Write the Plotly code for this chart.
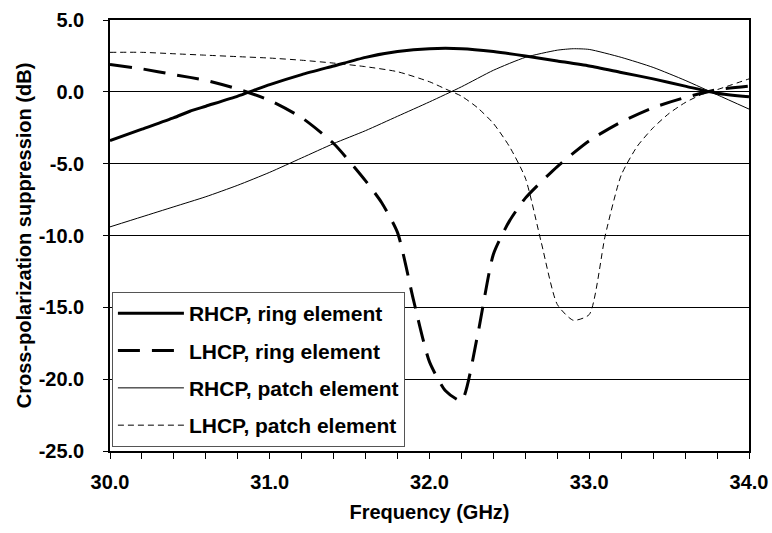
import plotly.graph_objects as go

# Frequency sweep (GHz) for each measured curve
freq_rhcp_ring = [30.0, 30.2, 30.4, 30.5, 30.6, 30.8, 30.9, 31.0, 31.2, 31.4, 31.6, 31.8,
                  32.0, 32.2, 32.4, 32.6, 32.8, 33.0, 33.2, 33.4, 33.6, 33.8, 34.0]
rhcp_ring = [-3.4, -2.6, -1.8, -1.35, -1.0, -0.3, 0.1, 0.5, 1.2, 1.8, 2.4, 2.8,
             3.0, 3.0, 2.8, 2.5, 2.15, 1.8, 1.35, 0.9, 0.4, -0.1, -0.35]

freq_lhcp_ring = [30.0, 30.2, 30.4, 30.6, 30.8, 31.0, 31.2, 31.4, 31.6, 31.7, 31.8, 31.9,
                  32.0, 32.1, 32.2, 32.3, 32.4, 32.5, 32.6, 32.8, 33.0, 33.2, 33.4, 33.6,
                  33.8, 34.0]
lhcp_ring = [1.9, 1.6, 1.2, 0.8, 0.2, -0.6, -1.8, -3.6, -6.2, -7.7, -9.8, -14.5,
             -18.8, -20.8, -21.5, -17.0, -11.3, -9.0, -7.4, -5.2, -3.4, -2.1, -1.1, -0.4,
             0.15, 0.4]

freq_rhcp_patch = [30.0, 30.2, 30.4, 30.6, 30.8, 31.0, 31.2, 31.4, 31.6, 31.8, 32.0, 32.2,
                   32.4, 32.6, 32.8, 32.9, 33.0, 33.2, 33.4, 33.6, 33.8, 34.0]
rhcp_patch = [-9.4, -8.7, -8.0, -7.3, -6.5, -5.6, -4.6, -3.6, -2.7, -1.7, -0.7, 0.35,
              1.5, 2.4, 2.9, 3.0, 2.95, 2.4, 1.7, 0.8, -0.2, -1.2]

freq_lhcp_patch = [30.0, 30.2, 30.4, 30.6, 30.8, 31.0, 31.2, 31.4, 31.6, 31.8, 32.0, 32.1,
                   32.2, 32.3, 32.4, 32.5, 32.6, 32.7, 32.8, 32.9, 33.0, 33.1, 33.2, 33.3,
                   33.4, 33.5, 33.6, 33.7, 33.8, 34.0]
lhcp_patch = [2.75, 2.75, 2.65, 2.55, 2.45, 2.35, 2.2, 2.0, 1.75, 1.4, 0.7, 0.2,
              -0.3, -1.1, -2.2, -3.8, -6.0, -10.5, -14.8, -15.9, -15.5, -10.0, -5.8, -3.8,
              -2.5, -1.5, -0.75, -0.2, 0.15, 0.9]

series_names = ["RHCP, ring element", "LHCP, ring element",
                "RHCP, patch element", "LHCP, patch element"]

# Axis tick positions and their labels (plain hyphen for negatives)
x_ticks = [30, 31, 32, 33, 34]
x_tick_text = ["30.0", "31.0", "32.0", "33.0", "34.0"]
y_ticks = [-25, -20, -15, -10, -5, 0, 5]
y_tick_text = ["-25.0", "-20.0", "-15.0", "-10.0", "-5.0", "0.0", "5.0"]

FONT = "Liberation Sans, Arial, sans-serif"

fig = go.Figure()

styles = [
    dict(width=3, dash="solid"),
    dict(width=3, dash="22px,12px"),
    dict(width=1, dash="solid"),
    dict(width=1, dash="6px,4px"),
]
data = [(freq_rhcp_ring, rhcp_ring), (freq_lhcp_ring, lhcp_ring),
        (freq_rhcp_patch, rhcp_patch), (freq_lhcp_patch, lhcp_patch)]

for i, ((fx, fy), name, st) in enumerate(zip(data, series_names, styles)):
    fig.add_trace(go.Scatter(
        x=fx, y=fy, name=name, mode="lines", legendgroup=f"g{i}",
        line=dict(color="black", width=st["width"], dash=st["dash"],
                  shape="spline", smoothing=0.6),
    ))

fig.update_layout(
    width=772, height=533,
    margin=dict(l=110, r=23, t=20, b=82),
    paper_bgcolor="white", plot_bgcolor="white",
    font=dict(family=FONT, size=20, color="black", weight="bold"),
    showlegend=True,
    legend=dict(
        x=0.003, y=0.009, xanchor="left", yanchor="bottom",
        bgcolor="white", bordercolor="#555555", borderwidth=1,
        font=dict(family=FONT, size=21, color="black", weight="bold"),
        itemwidth=66, traceorder="grouped", tracegroupgap=7,
    ),
    xaxis=dict(
        range=[30, 34], tickvals=x_ticks, ticktext=x_tick_text,
        showgrid=False, zeroline=False, automargin=False,
        showline=True, linecolor="black", linewidth=1.5, mirror=True,
        ticks="outside", ticklen=6, tickcolor="black", tickwidth=1,
        ticklabelstandoff=6,
        minor=dict(dtick=0.2, tick0=30, ticks="outside", ticklen=6,
                   tickcolor="black", showgrid=False),
        tickfont=dict(family=FONT, size=20, weight="bold"),
        title=dict(text="Frequency (GHz)", standoff=13,
                   font=dict(family=FONT, size=20, weight="bold")),
    ),
    yaxis=dict(
        range=[-25, 5], tickvals=y_ticks, ticktext=y_tick_text,
        showgrid=True, gridcolor="black", gridwidth=1, zeroline=False, automargin=False,
        showline=True, linecolor="black", linewidth=1.5, mirror=True,
        ticks="outside", ticklen=5, tickcolor="black",
        ticklabelstandoff=15,
        tickfont=dict(family=FONT, size=20, weight="bold"),
        title=dict(text="Cross-polarization suppression (dB)", standoff=2,
                   font=dict(family=FONT, size=20, weight="bold")),
    ),
)

fig.write_html("out.html")
